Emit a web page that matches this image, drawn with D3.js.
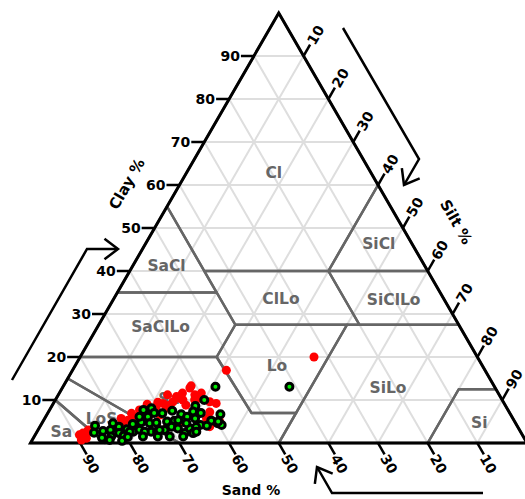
<!DOCTYPE html>
<html>
<head>
<meta charset="utf-8">
<script src="https://cdn.jsdelivr.net/npm/d3@7"></script>
<style>
  body { margin: 0; background: #fff; }
  svg text { font-family: "DejaVu Sans", sans-serif; font-weight: bold; }
</style>
</head>
<body>
<script>
// soil texture triangle, samples given as [sand %, clay %]

var ticks = [10, 20, 30, 40, 50, 60, 70, 80, 90];

// USDA classes, vertices as [sand, silt, clay]
var classNames = ["Cl", "SiCl", "SaCl", "ClLo", "SiClLo", "SaClLo", "Lo", "SiLo", "Si", "Sa", "LoS", "SaLo"];
var classPolys = [
  [[45,0,55],[0,0,100],[0,40,60],[20,40,40],[45,15,40]],
  [[20,40,40],[0,40,60],[0,60,40]],
  [[65,0,35],[45,0,55],[45,20,35]],
  [[45,20,35],[45,15,40],[20,40,40],[20,52.5,27.5],[45,27.5,27.5]],
  [[20,40,40],[0,60,40],[0,72.5,27.5],[20,52.5,27.5]],
  [[80,0,20],[65,0,35],[45,20,35],[45,27.5,27.5],[52.5,27.5,20]],
  [[52,41,7],[52.5,27.5,20],[45,27.5,27.5],[22.5,50,27.5],[43,50,7]],
  [[50,50,0],[43,50,7],[22.5,50,27.5],[0,72.5,27.5],[0,87.5,12.5],[7.5,80,12.5],[20,80,0]],
  [[20,80,0],[7.5,80,12.5],[0,87.5,12.5],[0,100,0]],
  [[100,0,0],[85,15,0],[90,0,10]],
  [[85,15,0],[90,0,10],[85,0,15],[70,30,0]],
  [[70,30,0],[85,0,15],[80,0,20],[52.5,27.5,20],[52,41,7],[43,50,7],[50,50,0]]
];
// where each class name sits, [sand, clay]
var classLabelAt = [
  [19.6,62.8],[6.7,46.3],[52,41.2],[32.8,33.5],[10.2,33.3],[60.3,27],
  [41.4,17.9],[21.6,12.8],[7.3,4.65],[92.5,2.6],[82.9,5.6],[64.9,10.2]
];

var redSamples = [
  [32.9,20],[52.1,16.9],[61,13.3],[63.6,11.6],[65.2,10.8],[61.3,11.2],[60.7,10.4],[58,9.2],
  [59.1,9.6],[60.7,5],[76.2,6.9],[78.8,5.3],[80.8,3.8],[88.3,2.3],[88.2,1.1],[89.4,0.7],
  [86.8,2.6],[74.2,7.7],[72.6,8.1],[70.5,8.4],[68.7,9.2],[66.5,9.6],[64.3,10],[68.6,8.1],
  [71.5,7.7],[70.9,3.4],[67.7,4.6],[61.7,5.7],[62,3.8],[79.3,4.2],[64.8,10.4],[61.5,12.8],
  [59.8,11.6],[59.4,5],[73.6,6.9],[76,6.1],[77.7,5.3],[86.9,3],[89.2,1.9],[78.9,5.7],
  [67.6,8.8],[64.3,8.8],[70.7,6.5],[61.9,10],[72.8,6.5],[60.3,7.2],[66.8,11.2],[69.6,9.5],[72,9]
];

var greenSamples = [
  [85,4],[86,2.4],[84,2.8],[85,1.2],[82.4,3],[83,1.5],[80.3,3.8],[81,2.3],[80.4,1.7],[79,3.2],
  [77,4.2],[78,2.6],[76.5,3.1],[75.3,4.8],[73.4,7.7],[73.3,6.1],[71.6,8.1],[73.7,4.6],[75,6.1],
  [74.4,2.6],[75.7,2.6],[81.3,0.5],[56.2,13.1],[60,10],[62.5,8.6],[63.6,7.3],[58.4,6.7],[71.6,7],
  [70,6.9],[67.7,7.5],[66.3,6.7],[72.3,4.7],[70,5],[68.4,5.2],[65.4,6.1],[64,5.7],[63.7,4.2],
  [61,5.2],[60,4.6],[73.2,2.6],[71.5,3],[69.7,3.8],[68.6,3.4],[67.8,2.3],[66.2,3.4],[71.2,1.5],
  [68.5,1.5],[64.8,3.7],[66.3,4.6],[66.1,2.3],[41.3,13.1],[76.6,1.5],[73.6,1.5],[83.7,0.7],
  [81.1,4.6],[78.7,2.6],[72.5,3],[65.3,2.6],[62.2,7],[62.5,4],[67.6,5.3],[77.2,4.4],[79.7,1.4],
  [59.4,4.2],[59.7,5]
];

var width = 525, height = 499;

var svg = d3.select("body").append("svg")
    .attr("width", width)
    .attr("height", height);

// x runs on silt + clay/2, y on clay
var x = d3.scaleLinear().domain([0, 100]).range([30.5, 527]);
var y = d3.scaleLinear().domain([0, 100]).range([443, 13]);

function proj(sand, clay) {
  var silt = 100 - sand - clay;
  return [x(silt + clay / 2), y(clay)];
}

var line = d3.line();

// light grid
var grid = svg.append("g")
    .attr("stroke", "#dedede")
    .attr("stroke-width", 2)
    .attr("fill", "none");

ticks.forEach(function(v) {
  grid.append("path").attr("d", line([proj(100 - v, v), proj(0, v)]));          // clay
  grid.append("path").attr("d", line([proj(v, 0), proj(v, 100 - v)]));          // sand
  grid.append("path").attr("d", line([proj(100 - v, 0), proj(0, 100 - v)]));    // silt
});

// class boundaries
svg.append("g").selectAll("path")
  .data(classPolys)
  .join("path")
    .attr("d", function(p) { return line(p.map(function(q) { return proj(q[0], q[2]); })) + "Z"; })
    .attr("fill", "none")
    .attr("stroke", "#666")
    .attr("stroke-width", 2.5)
    .attr("stroke-linejoin", "round");

// outline
svg.append("path")
    .attr("d", line([proj(100, 0), proj(0, 100), proj(0, 0)]) + "Z")
    .attr("fill", "none")
    .attr("stroke", "#000")
    .attr("stroke-width", 3)
    .attr("stroke-linejoin", "miter");

var axes = svg.append("g");
var tl = 13;

// clay ticks, left edge
ticks.forEach(function(v) {
  var p = proj(100 - v, v);
  axes.append("line")
      .attr("x1", p[0]).attr("y1", p[1]).attr("x2", p[0] - tl).attr("y2", p[1])
      .attr("stroke", "#000").attr("stroke-width", 2.5);
  axes.append("text")
      .attr("x", p[0] - tl - 1).attr("y", p[1])
      .attr("text-anchor", "end")
      .attr("dominant-baseline", "central")
      .attr("font-size", 14)
      .text(v);
});

// sand ticks, base
ticks.forEach(function(v) {
  var p = proj(v, 0);
  axes.append("line")
      .attr("x1", p[0]).attr("y1", p[1]).attr("x2", p[0] + tl * 0.5).attr("y2", p[1] + tl * 0.866)
      .attr("stroke", "#000").attr("stroke-width", 2.5);
  var cx = p[0] + 11, cy = p[1] + 21;
  axes.append("text")
      .attr("transform", "translate(" + cx + "," + cy + ") rotate(60)")
      .attr("text-anchor", "middle")
      .attr("dominant-baseline", "central")
      .attr("font-size", 14)
      .text(v);
});

// silt ticks, right edge
ticks.forEach(function(v) {
  var p = proj(0, 100 - v);
  axes.append("line")
      .attr("x1", p[0]).attr("y1", p[1]).attr("x2", p[0] + tl * 0.5).attr("y2", p[1] - tl * 0.866)
      .attr("stroke", "#000").attr("stroke-width", 2.5);
  var cx = p[0] + 12, cy = p[1] - 21;
  axes.append("text")
      .attr("transform", "translate(" + cx + "," + cy + ") rotate(-60)")
      .attr("text-anchor", "middle")
      .attr("dominant-baseline", "central")
      .attr("font-size", 14)
      .text(v);
});

// axis titles
axes.append("text")
    .attr("transform", "translate(127,184) rotate(-60)")
    .attr("text-anchor", "middle").attr("dominant-baseline", "central")
    .attr("font-size", 15).text("Clay %");
axes.append("text")
    .attr("transform", "translate(456,222) rotate(60)")
    .attr("text-anchor", "middle").attr("dominant-baseline", "central")
    .attr("font-size", 15).text("Silt %");
axes.append("text")
    .attr("x", 251).attr("y", 490)
    .attr("text-anchor", "middle").attr("dominant-baseline", "central")
    .attr("font-size", 14).text("Sand %");

// direction arrows
function arrow(pts) {
  var a = pts[pts.length - 2], b = pts[pts.length - 1];
  var ang = Math.atan2(b[1] - a[1], b[0] - a[0]);
  var hl = 17, spread = 0.65;
  axes.append("path")
      .attr("d", line(pts))
      .attr("fill", "none").attr("stroke", "#000").attr("stroke-width", 2.5);
  axes.append("path")
      .attr("d", line([
        [b[0] - hl * Math.cos(ang - spread), b[1] - hl * Math.sin(ang - spread)],
        b,
        [b[0] - hl * Math.cos(ang + spread), b[1] - hl * Math.sin(ang + spread)]
      ]))
      .attr("fill", "none").attr("stroke", "#000").attr("stroke-width", 2.5);
}
arrow([[12, 380], [87, 249], [118, 249]]);
arrow([[343, 28], [419, 159], [404, 185]]);
arrow([[483, 493], [332, 493], [317, 467]]);

// class names
svg.append("g").selectAll("text")
  .data(classNames)
  .join("text")
    .attr("x", function(d, i) { return proj(classLabelAt[i][0], classLabelAt[i][1])[0]; })
    .attr("y", function(d, i) { return proj(classLabelAt[i][0], classLabelAt[i][1])[1]; })
    .attr("text-anchor", "middle")
    .attr("dominant-baseline", "central")
    .attr("font-size", 15.5)
    .attr("fill", "#666")
    .text(function(d) { return d; });

// samples
svg.append("g").selectAll("circle")
  .data(redSamples)
  .join("circle")
    .attr("cx", function(d) { return proj(d[0], d[1])[0]; })
    .attr("cy", function(d) { return proj(d[0], d[1])[1]; })
    .attr("r", 4.5)
    .attr("fill", "#ff0000");

svg.append("g").selectAll("circle")
  .data(greenSamples)
  .join("circle")
    .attr("cx", function(d) { return proj(d[0], d[1])[0]; })
    .attr("cy", function(d) { return proj(d[0], d[1])[1]; })
    .attr("r", 3.5)
    .attr("fill", "#00ee00")
    .attr("stroke", "#000")
    .attr("stroke-width", 3);
</script>
</body>
</html>
